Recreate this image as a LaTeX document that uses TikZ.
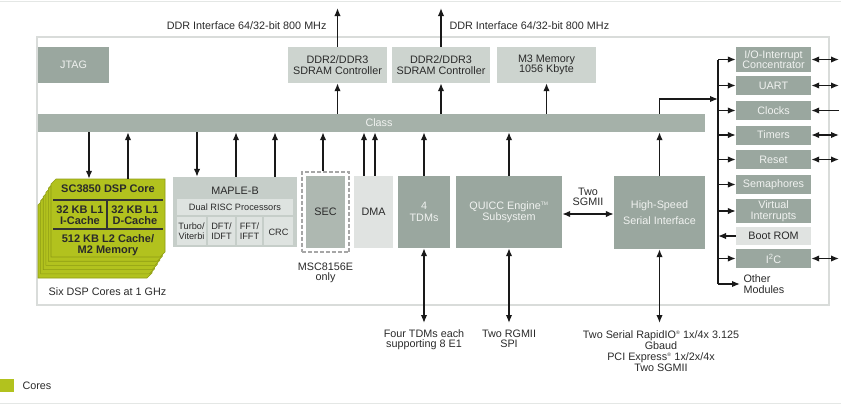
\documentclass[tikz,border=0pt]{standalone}
\usepackage{fontspec}
\setmainfont{Liberation Sans}
\usetikzlibrary{arrows.meta,positioning,fit,calc}

\definecolor{blockgray}{HTML}{9AA79F}
\definecolor{classgray}{HTML}{A5B1A9}
\definecolor{ctrlgray}{HTML}{CDD4CF}
\definecolor{palegray}{HTML}{E0E3E1}
\definecolor{secgray}{HTML}{AEB8B1}
\definecolor{maplegray}{HTML}{C6CEC9}
\definecolor{mapleinner}{HTML}{DEE3E0}
\definecolor{coregreen}{HTML}{B2C21E}
\definecolor{coreedge}{HTML}{8E9C14}
\definecolor{chipframe}{HTML}{D9DCDA}
\definecolor{lighttext}{HTML}{F0F2F0}
\definecolor{darktext}{HTML}{2A2A2A}

\begin{document}
\begin{tikzpicture}[
  x=1pt, y=-1pt,
  font=\fontsize{10.8}{10.5}\selectfont,
  >={Latex[length=8pt,width=6.5pt]},
  block/.style={
    rectangle, inner sep=1pt, align=center,
    fill=blockgray, text=lighttext
  },
  ctrlblock/.style={block, fill=ctrlgray, text=darktext},
  paleblock/.style={block, fill=palegray, text=darktext},
  iobox/.style={block, minimum width=75pt},
  subbox/.style={
    rectangle, inner sep=0.5pt, align=center, fill=mapleinner,
    text=darktext, font=\fontsize{9.2}{10}\selectfont
  },
  corelabel/.style={align=center, text=darktext, font=\fontsize{11}{10.5}\selectfont\bfseries},
  caption/.style={align=center, text=darktext},
  conn/.style={->, line width=1.5pt, black!90},
  biconn/.style={<->, line width=1.5pt, black!90},
  busline/.style={line width=1.5pt, black!90},
  corelayer/.style={fill=coregreen, draw=coreedge, line width=0.6pt},
  coreline/.style={line width=1.3pt, black!80}
]
\useasboundingbox (0,0) rectangle (841,405);

% page rules and chip outline
\draw[chipframe!70, line width=0.8pt] (0,1) -- (841,1);
\draw[chipframe!70, line width=0.8pt] (0,403) -- (841,403);
\draw[chipframe, line width=1.5pt, fill=white] (37,37) rectangle (829,305);

% ===== Top row =====
\node[block, minimum width=71pt, minimum height=36pt] (jtag) at (73.5,65) {JTAG};
\node[ctrlblock, minimum width=99pt, minimum height=36pt] (ddrA) at (337.5,65)
  {DDR2/DDR3\\SDRAM Controller};
\node[ctrlblock, minimum width=98pt, minimum height=36pt] (ddrB) at (441,65)
  {DDR2/DDR3\\SDRAM Controller};
\node[ctrlblock, minimum width=99pt, minimum height=36pt] (m3) at (546.5,65)
  {M3 Memory\\1056 Kbyte};

\coordinate (ddrAout) at (337.5,8);
\coordinate (ddrBout) at (441,8);
\node[caption, anchor=east] (ddrAlbl) at (330,26) {DDR Interface 64/32-bit 800 MHz};
\node[caption, anchor=west] (ddrBlbl) at (446,26) {DDR Interface 64/32-bit 800 MHz};

% ===== Class bar =====
\node[block, fill=classgray, minimum width=667pt, minimum height=18pt] (class) at (371.5,123)
  {\hspace{15pt}Class};

% ===== DSP core stack =====
\foreach \k in {5,4,...,0}
  \draw[corelayer, shift={(-2.6*\k,4.2*\k)}]
    (56,179) -- (165,179) -- (165,252) -- (160,257) -- (51,257) -- (51,184) -- cycle;
\node[minimum width=114pt, minimum height=78pt, inner sep=0pt] (core) at (108,218) {};
\draw[coreline] (53,200) -- (163,200);
\draw[coreline] (53,229) -- (163,229);
\draw[coreline] (107,200) -- (107,229);
\node[corelabel] (coretitle) at (108,189) {SC3850 DSP Core};
\node[corelabel] (l1i) at (80,215) {32 KB L1\\I-Cache};
\node[corelabel] (l1d) at (135,215) {32 KB L1\\D-Cache};
\node[corelabel] (l2) at (108,245) {512 KB L2 Cache/\\M2 Memory};
\node[caption] (corecap) at (107.5,292) {Six DSP Cores at 1 GHz};

% ===== MAPLE-B =====
\node[block, fill=maplegray, minimum width=124pt, minimum height=70pt] (maple) at (235,212) {};
\node[text=darktext] (mapletitle) at (235,191) {MAPLE-B};
\node[subbox, minimum width=116pt, minimum height=16pt] (risc) at (235,207) {Dual RISC Processors};
\node[subbox, minimum width=29pt, minimum height=28pt] (turbo) at (191.5,231) {Turbo/\\Viterbi};
\node[subbox, minimum width=27pt, minimum height=28pt] (dft) at (221.5,231) {DFT/\\IDFT};
\node[subbox, minimum width=25pt, minimum height=28pt] (fft) at (249.5,231) {FFT/\\IFFT};
\node[subbox, minimum width=29pt, minimum height=28pt] (crc) at (278.5,231) {\\CRC};

% ===== SEC, DMA, TDMs, QUICC, HSSI =====
\node[block, fill=secgray, text=darktext, minimum width=39pt, minimum height=72pt] (sec) at (325.5,212) {SEC};
\node[draw=gray!70, dashed, dash pattern=on 4pt off 2pt, line width=1.5pt,
  inner sep=4pt, fit=(sec)] (secfence) {};
\node[caption, below=6pt of secfence] (seclbl) {MSC8156E\\only};
\node[paleblock, minimum width=39pt, minimum height=72pt] (dma) at (373.5,212) {DMA};
\node[block, minimum width=52pt, minimum height=72pt] (tdm) at (424,212) {4\\[1pt]TDMs};
\node[block, minimum width=106pt, minimum height=72pt] (quicc) at (509,212)
  {QUICC Engine\textsuperscript{\tiny TM}\\Subsystem};
\node[block, minimum width=91pt, minimum height=73pt] (hssi) at (659.5,212.5)
  {High-Speed\\[5pt]Serial Interface};
\node[caption] (sgmiilbl) at (588,197) {Two\\SGMII};

% ===== Right-hand peripherals =====
\node[iobox, minimum height=25pt] (io) at (773.5,59.5) {I/O-Interrupt\\Concentrator};
\node[iobox, minimum height=19pt] (uart) at (773.5,85.5) {UART};
\node[iobox, minimum height=19pt] (clocks) at (773.5,110.5) {Clocks};
\node[iobox, minimum height=19pt] (timers) at (773.5,135) {Timers};
\node[iobox, minimum height=19pt] (reset) at (773.5,159.5) {Reset};
\node[iobox, minimum height=19pt] (sema) at (773.5,184.5) {Semaphores};
\node[iobox, minimum height=24pt] (virt) at (773.5,211) {Virtual\\Interrupts};
\node[iobox, fill=palegray, text=darktext, minimum height=18pt] (bootrom) at (773.5,236) {Boot ROM};
\node[iobox, minimum height=19pt] (i2c) at (773.5,258.5) {I\textsuperscript{2}C};
\node[caption, anchor=west, align=left] (others) at (740,284) {Other\\Modules};

\coordinate (busjoin) at (718,99);
\coordinate (rim) at (839,0);

% ===== Connectors =====
\draw[conn] (ddrA.north) -- (ddrAout);
\draw[conn] (ddrB.north) -- (ddrBout);
\draw[conn] (class.north -| ddrA) -- (ddrA.south);
\draw[conn] (class.north -| ddrB) -- (ddrB.south);
\draw[conn] (class.north -| m3) -- (m3.south);

% cores and MAPLE
\draw[conn] (class.south -| 89,0) -- (core.north -| 89,0);
\draw[conn] (core.north -| 128,0) -- (class.south -| 128,0);
\draw[conn] ([xshift=-38pt]class.south -| maple.north) -- ([xshift=-38pt]maple.north);
\draw[conn] ([xshift=1pt]maple.north) -- ([xshift=1pt]maple.north |- class.south);
\draw[conn] ([xshift=40pt]maple.north) -- ([xshift=40pt]maple.north |- class.south);

% SEC, DMA, TDMs, QUICC, HSSI to Class
\draw[conn] ([xshift=-2.5pt]secfence.north) -- ([xshift=-2.5pt]sec.north |- class.south);
\draw[conn] ([xshift=-9.5pt]dma.north) -- ([xshift=-9.5pt]dma.north |- class.south);
\draw[conn] ([xshift=1.5pt]dma.north) -- ([xshift=1.5pt]dma.north |- class.south);
\draw[conn] (tdm.north) -- (tdm.north |- class.south);
\draw[conn] (quicc.north) -- (quicc.north |- class.south);
\draw[conn] (hssi.north) -- (hssi.north |- class.south);
\draw[biconn] (quicc.east |- 0,214) -- (hssi.west |- 0,214);

% external interfaces
\coordinate (tdmout) at (424,323);
\coordinate (quiccout) at (509,323);
\coordinate (hssiout) at (659.5,323);
\draw[biconn] (tdm.south) -- (tdmout);
\draw[biconn] (quicc.south) -- (quiccout);
\draw[biconn] (hssi.south) -- (hssiout);
\node[caption, anchor=north] (tdmlbl) at (424,326) {Four TDMs each\\supporting 8 E1};
\node[caption, anchor=north] (quicclbl) at (509,326) {Two RGMII\\SPI};
\node[caption, anchor=north, font=\fontsize{10.8}{11.2}\selectfont] (hssilbl) at (661,327)
  {Two Serial RapidIO\textsuperscript{\tiny\textregistered} 1x/4x 3.125\\Gbaud\\
   PCI Express\textsuperscript{\tiny\textregistered} 1x/2x/4x\\Two SGMII};

% peripheral bus
\draw[conn] (hssi.north |- class.north) |- (busjoin);
\draw[busline] (io.west -| busjoin) -- (others.west -| busjoin);
\foreach \b in {io,uart,clocks,timers,reset,sema,virt,i2c}
  \draw[conn] (\b.west -| busjoin) -- (\b.west);
\draw[conn] (bootrom.west) -- (bootrom.west -| busjoin);
\draw[conn] (others.west -| busjoin) -- (others.west);
\foreach \b in {io,uart,timers,reset,i2c}
  \draw[biconn] (\b.east) -- (\b.east -| rim);
\draw[conn] (clocks.east -| rim) -- (clocks.east);

% Legend
\node[fill=coregreen, minimum width=14pt, minimum height=13pt, inner sep=0pt] (legcore) at (7,385.5) {};
\node[caption, anchor=west] (leglbl) at (19,386) {Cores};

\end{tikzpicture}
\end{document}
